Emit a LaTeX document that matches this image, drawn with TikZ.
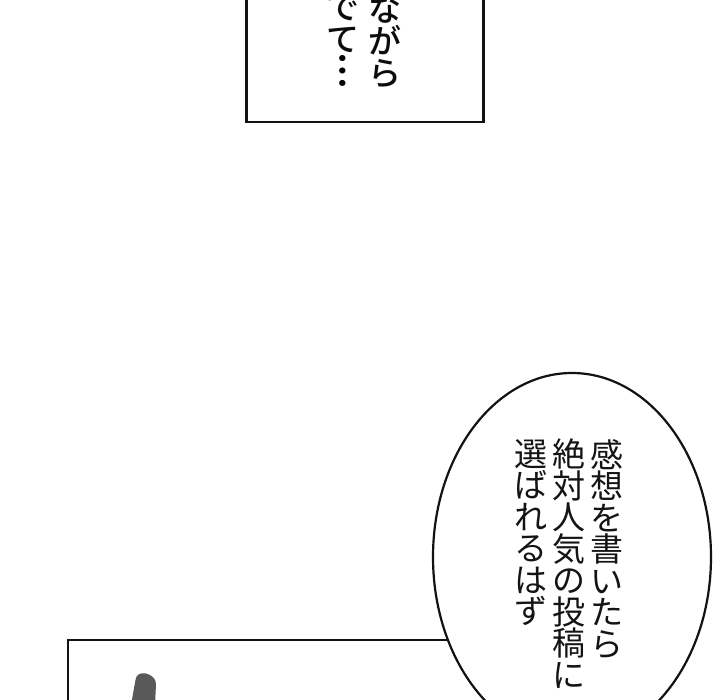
\documentclass[tikz,border=0pt]{standalone}
\usepackage{fontspec}
\newfontfamily\cjkreg{Noto Sans CJK JP}
\newfontfamily\cjkbold{Noto Sans CJK JP Medium}
\newfontfamily\cjkheavy{Noto Sans CJK JP Bold}
\tikzset{
  panel/.style={draw=black!93,line width=2.6pt,fill=white},
  bubble/.style={draw=black!93,line width=2.2pt,fill=white},
  vlight/.style={inner sep=0pt,anchor=north,align=center,text=black!92,font=\cjkreg\fontsize{33}{31.5}\selectfont},
  vbold/.style={inner sep=0pt,anchor=north,align=center,text=black!95,font=\cjkbold\fontsize{33}{32}\selectfont},
  dotsv/.style={inner sep=0pt,rotate=90,text=black,font=\cjkheavy\fontsize{33}{33}\selectfont},
}
\begin{document}
\begin{tikzpicture}[x=1pt,y=-1pt]
\useasboundingbox (0,0) rectangle (720,700);
\clip (0,0) rectangle (720,700);
\fill[white] (0,0) rectangle (720,700);
% upper panel
\draw[panel] (246.5,-10) rectangle (483.5,122);
\node[vbold] (t1) at (385,-5) {な\\が\\ら};
\node[vbold] (t2) at (343,-5) {で\\て};
\node[dotsv] (t3) at (343,71) {…};
% lower panel
\draw[panel] (68,740) -- (68,640) -- (500,640);
\fill[black!65] (131,705) -- (135.5,680) .. controls (136,674) and (141,672.5) .. (146,673.5)
  .. controls (152,675) and (156,679) .. (156,684) -- (155,705) -- cycle;
% bubble
\draw[bubble] (572,557) ellipse [x radius=139,y radius=184];
\node[vlight] (c1) at (607,439) {感\\想\\を\\書\\い\\た\\ら};
\node[vlight] (c2) at (569,439) {絶\\対\\人\\気\\の\\投\\稿\\に};
\node[vlight] (c3) at (531,439) {選\\ば\\れ\\る\\は\\ず};
\end{tikzpicture}
\end{document}
